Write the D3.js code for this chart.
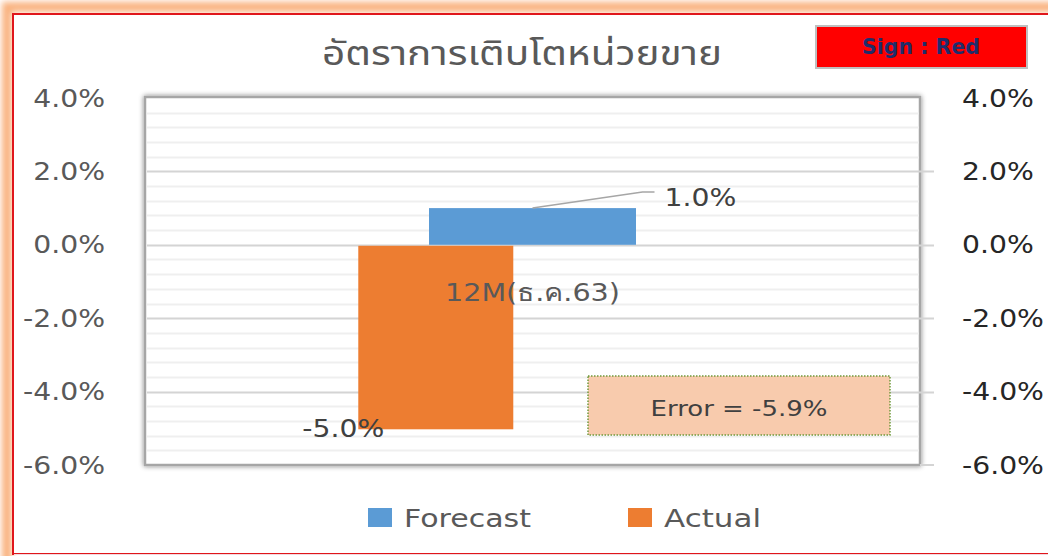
<!DOCTYPE html>
<html>
<head>
<meta charset="utf-8">
<script src="https://cdn.jsdelivr.net/npm/d3@7"></script>
<style>
  html, body { margin: 0; padding: 0; background: #fff; }
  svg { display: block; font-family: "DejaVu Sans", "Noto Sans", sans-serif; }
</style>
</head>
<body>
<div id="chart"></div>
<script>
// data
var categories = ["12M(ธ.ค.63)"];
var forecastValues = [1.0];
var actualValues = [-5.0];
var yTicks = [4, 2, 0, -2, -4, -6];
var seriesNames = ["Forecast", "Actual"];
var errorValue = -5.9;
var titleText = "อัตราการเติบโตหน่วยขาย";
var signText = "Sign : Red";

var W = 1048, H = 556;
var plot = {left: 145, right: 920, top: 98, bottom: 465};
var colors = {Forecast: "#5B9BD5", Actual: "#ED7D31"};

var svg = d3.select("#chart").append("svg")
    .attr("width", W)
    .attr("height", H);

var defs = svg.append("defs");
var glow = defs.append("filter").attr("id", "glow")
    .attr("x", "-10%").attr("y", "-10%").attr("width", "120%").attr("height", "120%");
glow.append("feGaussianBlur").attr("stdDeviation", 3);

var shadow = defs.append("filter").attr("id", "shadow")
    .attr("x", "-5%").attr("y", "-5%").attr("width", "110%").attr("height", "110%");
shadow.append("feGaussianBlur").attr("in", "SourceAlpha").attr("stdDeviation", 2.5).attr("result", "b");
shadow.append("feFlood").attr("flood-color", "#000").attr("flood-opacity", 0.5);
shadow.append("feComposite").attr("in2", "b").attr("operator", "in").attr("result", "s");
var mrg = shadow.append("feMerge");
mrg.append("feMergeNode").attr("in", "s");
mrg.append("feMergeNode").attr("in", "SourceGraphic");

// stretch text a little wider, like the source rendering
function widen(sel, k) {
    sel.each(function() {
        var w = this.getComputedTextLength();
        d3.select(this).attr("textLength", w * k).attr("lengthAdjust", "spacingAndGlyphs");
    });
}

// outer frame with orange glow
svg.append("rect")
    .attr("x", 7).attr("y", 7).attr("width", W + 20).attr("height", H + 20)
    .attr("fill", "none").attr("stroke", "#f9b27f").attr("stroke-width", 10)
    .attr("filter", "url(#glow)");
svg.append("rect")
    .attr("x", 13).attr("y", 14).attr("width", W + 20).attr("height", H - 16)
    .attr("fill", "#fff").attr("stroke", "#e0161b").attr("stroke-width", 2);
svg.append("line")
    .attr("x1", 14).attr("x2", W).attr("y1", 554.5).attr("y2", 554.5)
    .attr("stroke", "#f3d9df").attr("stroke-width", 1);

// scales
var y = d3.scaleLinear().domain([-6, 4]).range([plot.bottom, plot.top]);
var xF = d3.scaleBand().domain(categories).range([plot.left, plot.right])
    .paddingInner(0).paddingOuter(1.372);
var xA = d3.scaleBand().domain(categories).range([plot.left, plot.right])
    .paddingInner(0).paddingOuter(2).align(0.344);

// plot area with shadow
svg.append("rect")
    .attr("x", plot.left).attr("y", plot.top - 1)
    .attr("width", plot.right - plot.left).attr("height", plot.bottom - plot.top + 1)
    .attr("fill", "#fff").attr("stroke", "#a6a6a6").attr("stroke-width", 2.5)
    .attr("filter", "url(#shadow)");

// gridlines: minor every 0.4%, major every 2%
var minorTicks = d3.range(-6, 4.001, 0.4).map(function(d) { return +d.toFixed(1); });
svg.append("g").selectAll("line")
    .data(minorTicks.filter(function(d) { return yTicks.indexOf(d) < 0; }))
    .enter().append("line")
    .attr("x1", plot.left + 2).attr("x2", plot.right - 1)
    .attr("y1", function(d) { return Math.round(y(d)) + 0.5; })
    .attr("y2", function(d) { return Math.round(y(d)) + 0.5; })
    .attr("stroke", "#efefef").attr("stroke-width", 2);
svg.append("g").selectAll("line")
    .data(yTicks.slice(1, -1))
    .enter().append("line")
    .attr("x1", plot.left + 2).attr("x2", plot.right + 14)
    .attr("y1", function(d) { return Math.round(y(d)) + 0.5; })
    .attr("y2", function(d) { return Math.round(y(d)) + 0.5; })
    .attr("stroke", "#d4d4d4").attr("stroke-width", 2);
svg.append("line")
    .attr("x1", plot.right).attr("x2", plot.right + 14)
    .attr("y1", y(-6)).attr("y2", y(-6))
    .attr("stroke", "#d4d4d4").attr("stroke-width", 2);

// bars
svg.append("g").selectAll("rect")
    .data(actualValues)
    .enter().append("rect")
    .attr("x", function(d, i) { return xA(categories[i]); })
    .attr("width", xA.bandwidth())
    .attr("y", function(d) { return y(Math.max(0, d)) + 1; })
    .attr("height", function(d) { return Math.abs(y(d) - y(0)); })
    .attr("fill", colors.Actual);
svg.append("g").selectAll("rect")
    .data(forecastValues)
    .enter().append("rect")
    .attr("x", function(d, i) { return xF(categories[i]); })
    .attr("width", xF.bandwidth())
    .attr("y", function(d) { return y(Math.max(0, d)); })
    .attr("height", function(d) { return Math.abs(y(d) - y(0)); })
    .attr("fill", colors.Forecast);

var fmt = function(d) { return d.toFixed(1) + "%"; };

// left axis
var leftAxis = svg.append("g")
    .attr("transform", "translate(105,0)")
    .call(d3.axisLeft(y).tickValues(yTicks).tickSize(0).tickPadding(0).tickFormat(fmt));
leftAxis.select(".domain").remove();
leftAxis.selectAll("text")
    .attr("fill", "#595959").style("font-size", "25px")
    .style("font-family", "DejaVu Sans")
    .call(widen, 1.13);

// right axis
var rightAxis = svg.append("g")
    .attr("transform", "translate(962,0)")
    .call(d3.axisRight(y).tickValues(yTicks).tickSize(0).tickPadding(0).tickFormat(fmt));
rightAxis.select(".domain").remove();
rightAxis.selectAll("text")
    .attr("fill", "#262626").style("font-size", "25px")
    .style("font-family", "DejaVu Sans")
    .call(widen, 1.13);

// category label
svg.append("text")
    .attr("x", xF(categories[0]) + xF.bandwidth() / 2)
    .attr("y", y(0) + 48)
    .attr("dy", "0.35em")
    .attr("text-anchor", "middle")
    .attr("fill", "#595959").style("font-size", "24px")
    .attr("textLength", 175).attr("lengthAdjust", "spacingAndGlyphs")
    .text(categories[0]);

// data labels
var fx = xF(categories[0]) + xF.bandwidth() / 2;
var fy = y(forecastValues[0]);
svg.append("polyline")
    .attr("points", [[fx, fy], [fx + 110, fy - 16], [fx + 122, fy - 16]].map(function(p) { return p.join(","); }).join(" "))
    .attr("fill", "none").attr("stroke", "#a6a6a6").attr("stroke-width", 1.5);
svg.append("text")
    .attr("x", fx + 132).attr("y", fy - 11)
    .attr("dy", "0.35em")
    .attr("fill", "#404040").style("font-size", "25px")
    .text(fmt(forecastValues[0]))
    .call(widen, 1.13);
svg.append("text")
    .attr("x", xA(categories[0]) - 15).attr("y", y(actualValues[0]))
    .attr("dy", "0.35em")
    .attr("text-anchor", "middle")
    .attr("fill", "#404040").style("font-size", "25px")
    .text(fmt(actualValues[0]))
    .call(widen, 1.13);

// error box
svg.append("rect")
    .attr("x", 588).attr("y", 376).attr("width", 302).attr("height", 59)
    .attr("fill", "#F8CBAD").attr("stroke", "#6f9a3c").attr("stroke-width", 1.5)
    .attr("stroke-dasharray", "1.5,1.5");
svg.append("text")
    .attr("x", 739).attr("y", 408)
    .attr("dy", "0.35em").attr("text-anchor", "middle")
    .attr("fill", "#404040").style("font-size", "22px")
    .attr("textLength", 177).attr("lengthAdjust", "spacingAndGlyphs")
    .text("Error = " + errorValue.toFixed(1) + "%");

// title
svg.append("text")
    .attr("x", 522).attr("y", 53)
    .attr("dy", "0.35em").attr("text-anchor", "middle")
    .attr("fill", "#595959")
    .style("font-family", "'Noto Sans Thai', 'Noto Sans', 'DejaVu Sans', sans-serif")
    .style("font-size", "33px")
    .attr("textLength", 400).attr("lengthAdjust", "spacingAndGlyphs")
    .text(titleText);

// sign box
svg.append("rect")
    .attr("x", 816).attr("y", 26).attr("width", 211).attr("height", 42)
    .attr("fill", "#ff0000").attr("stroke", "#bfbfbf").attr("stroke-width", 2);
svg.append("text")
    .attr("x", 921).attr("y", 47)
    .attr("dy", "0.35em").attr("text-anchor", "middle")
    .attr("fill", "#1f2d6b").style("font-size", "21px").style("font-weight", "bold")
    .attr("textLength", 118).attr("lengthAdjust", "spacingAndGlyphs")
    .text(signText);

// legend
var legendX = [368, 628];
var legendW = [127, 97];
var legend = svg.append("g").selectAll("g")
    .data(seriesNames)
    .enter().append("g")
    .attr("transform", function(d, i) { return "translate(" + legendX[i] + ",508)"; });
legend.append("rect")
    .attr("width", 24).attr("height", 19)
    .attr("fill", function(d) { return colors[d]; });
legend.append("text")
    .attr("x", 36).attr("y", 10)
    .attr("dy", "0.35em")
    .attr("fill", "#595959").style("font-size", "25px")
    .attr("textLength", function(d, i) { return legendW[i]; })
    .attr("lengthAdjust", "spacingAndGlyphs")
    .text(function(d) { return d; });
</script>
</body>
</html>
